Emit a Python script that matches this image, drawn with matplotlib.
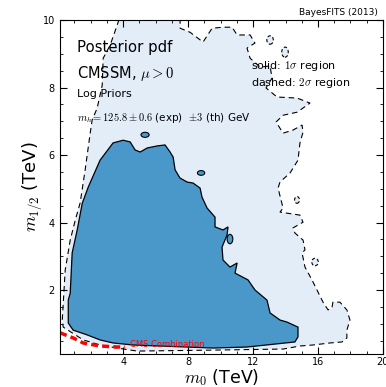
import matplotlib
matplotlib.use('Agg')
import matplotlib.pyplot as plt
from matplotlib.patches import Ellipse
from matplotlib.ticker import MultipleLocator

plt.rcParams['mathtext.fontset'] = 'cm'

# 2 sigma region boundary (m0, m12) in TeV
outer_m0 = [3.94, 7.51, 7.51, 8.12, 8.92, 9.48, 10.15, 10.71, 11.02, 11.82, 12.12, 11.63,
            11.82, 12.43, 13.05, 13.17, 12.80, 13.48, 14.71, 15.51, 14.71, 13.85, 13.42,
            13.85, 14.46, 15.02, 15.08, 14.89, 14.77, 14.28, 13.66, 13.54, 13.85, 13.66,
            14.89, 15.08, 14.46, 14.58, 15.08, 15.20, 15.02, 15.20, 15.63, 15.94, 16.31,
            16.62, 16.86, 16.92, 17.35, 17.78, 17.97, 17.78, 17.78, 17.48, 16.74, 15.69,
            14.89, 13.85, 9.78, 4.86, 3.63, 2.58, 1.54, 0.86, 0.31, 0.25, 0.43, 0.74,
            1.05, 1.35, 1.66, 1.97, 2.09, 2.40, 2.71, 2.77, 3.20, 3.63]
outer_m12 = [10.3, 10.3, 9.76, 9.64, 9.35, 9.76, 9.79, 9.79, 9.56, 9.56, 9.32, 9.17,
             8.87, 8.61, 8.64, 8.28, 7.99, 7.72, 7.69, 7.54, 7.27, 7.18, 6.98,
             6.65, 6.74, 6.89, 6.68, 6.36, 5.85, 5.47, 5.20, 5.02, 4.43, 4.31,
             4.22, 4.01, 3.84, 3.69, 3.48, 3.19, 3.10, 2.68, 2.30, 2.00, 1.64,
             1.41, 1.47, 1.64, 1.64, 1.41, 1.11, 0.81, 0.58, 0.46, 0.43, 0.37,
             0.34, 0.25, 0.22, 0.19, 0.28, 0.37, 0.52, 0.73, 0.90, 1.11, 2.59, 3.48,
             4.07, 4.58, 5.56, 6.65, 7.04, 7.39, 8.07, 8.87, 9.26, 9.85]

# 1 sigma region boundary
inner_m0 = [0.62, 0.62, 0.74, 0.86, 1.17, 1.48, 1.85, 2.58, 3.38, 4.00, 4.43, 4.74,
            5.05, 5.48, 6.09, 6.58, 6.89, 7.08, 7.20, 7.50, 7.94, 8.31, 8.74, 8.86,
            9.17, 9.66, 9.66, 10.15, 10.46, 10.40, 10.09, 10.15, 10.58, 11.02, 10.89,
            11.69, 12.12, 12.86, 13.05, 13.66, 14.09, 14.77, 14.77, 14.58, 11.63, 9.54,
            4.62, 3.38, 2.58, 1.78, 0.92]
inner_m12 = [1.02, 1.70, 1.91, 3.10, 3.78, 4.57, 5.05, 5.85, 6.36, 6.44, 6.39, 6.15,
             6.09, 6.21, 6.27, 6.30, 6.09, 5.94, 5.56, 5.32, 5.20, 5.17, 5.02, 4.75,
             4.43, 4.16, 3.87, 3.78, 3.87, 3.63, 3.27, 2.89, 2.68, 2.80, 2.50,
             2.30, 2.00, 1.70, 1.32, 1.11, 1.05, 0.90, 0.61, 0.46, 0.31, 0.28,
             0.37, 0.43, 0.52, 0.67, 0.81]

# small isolated islands: centre m0, centre m12, width, height
isl1_m0 = [5.35, 8.80, 10.58]
isl1_m12 = [6.60, 5.47, 3.51]
isl1_w = [0.5, 0.45, 0.35]
isl1_h = [0.15, 0.14, 0.28]

isl2_m0 = [15.82, 14.71, 13.05, 13.97]
isl2_m12 = [2.83, 4.67, 9.41, 9.05]
isl2_w = [0.4, 0.3, 0.4, 0.4]
isl2_h = [0.22, 0.2, 0.25, 0.3]

# CMS combination limit
cms_m0 = [0.12, 0.92, 1.54, 2.58, 3.63, 4.12]
cms_m12 = [0.73, 0.58, 0.43, 0.34, 0.31, 0.31]

light = '#e2edf8'
dark = '#4a98c9'

fig = plt.figure(figsize=(3.86, 3.87), dpi=100)
ax = fig.add_axes([0.155, 0.085, 0.837, 0.863])

ax.fill(outer_m0, outer_m12, facecolor=light, edgecolor='k', ls=(0, (5, 3.5)), lw=0.8)
for x, y, w, h in zip(isl2_m0, isl2_m12, isl2_w, isl2_h):
    ax.add_patch(Ellipse((x, y), w, h, facecolor=light, edgecolor='k', ls=(0, (3, 2)), lw=0.8))
ax.fill(inner_m0, inner_m12, facecolor=dark, edgecolor='k', lw=0.9)
for x, y, w, h in zip(isl1_m0, isl1_m12, isl1_w, isl1_h):
    ax.add_patch(Ellipse((x, y), w, h, facecolor=dark, edgecolor='k', lw=0.8))

ax.plot(cms_m0, cms_m12, color='red', ls=(0, (2, 1.2)), lw=2.5)
ax.text(4.4, 0.37, 'CMS Combination', color='red', fontsize=6, va='center')

ax.set_xlim(0.1, 20)
ax.set_ylim(0.1, 10)
ax.xaxis.set_major_locator(MultipleLocator(4))
ax.xaxis.set_minor_locator(MultipleLocator(1))
ax.yaxis.set_major_locator(MultipleLocator(2))
ax.yaxis.set_minor_locator(MultipleLocator(0.5))
ax.tick_params(which='both', direction='in', top=True, right=True, labelsize=7)
ax.tick_params(which='major', length=5)
ax.tick_params(which='minor', length=2.5)
ax.tick_params(axis='x', which='major', pad=1.8)

ax.set_xlabel(r'$m_0$ (TeV)', fontsize=12.5, labelpad=0)
ax.set_ylabel(r'$m_{1/2}$ (TeV)', fontsize=13, labelpad=-1)

ax.text(1.15, 9.2, 'Posterior pdf', fontsize=10.7, va='center')
ax.text(1.15, 8.43, r'CMSSM, $\mu>0$', fontsize=10.5, va='center')
ax.text(1.15, 7.8, 'Log Priors', fontsize=8, va='center')
ax.text(1.15, 7.1, r'$m_h=125.8\pm0.6$ (exp)  $\pm3$ (th) GeV', fontsize=7.5, va='center')
ax.text(11.9, 8.65, r'solid: $1\sigma$ region', fontsize=8, va='center')
ax.text(11.9, 8.15, r'dashed: $2\sigma$ region', fontsize=8, va='center')

fig.text(0.98, 0.968, 'BayesFITS (2013)', fontsize=6.5, ha='right', va='center')

fig.savefig('out.png', dpi=100)
